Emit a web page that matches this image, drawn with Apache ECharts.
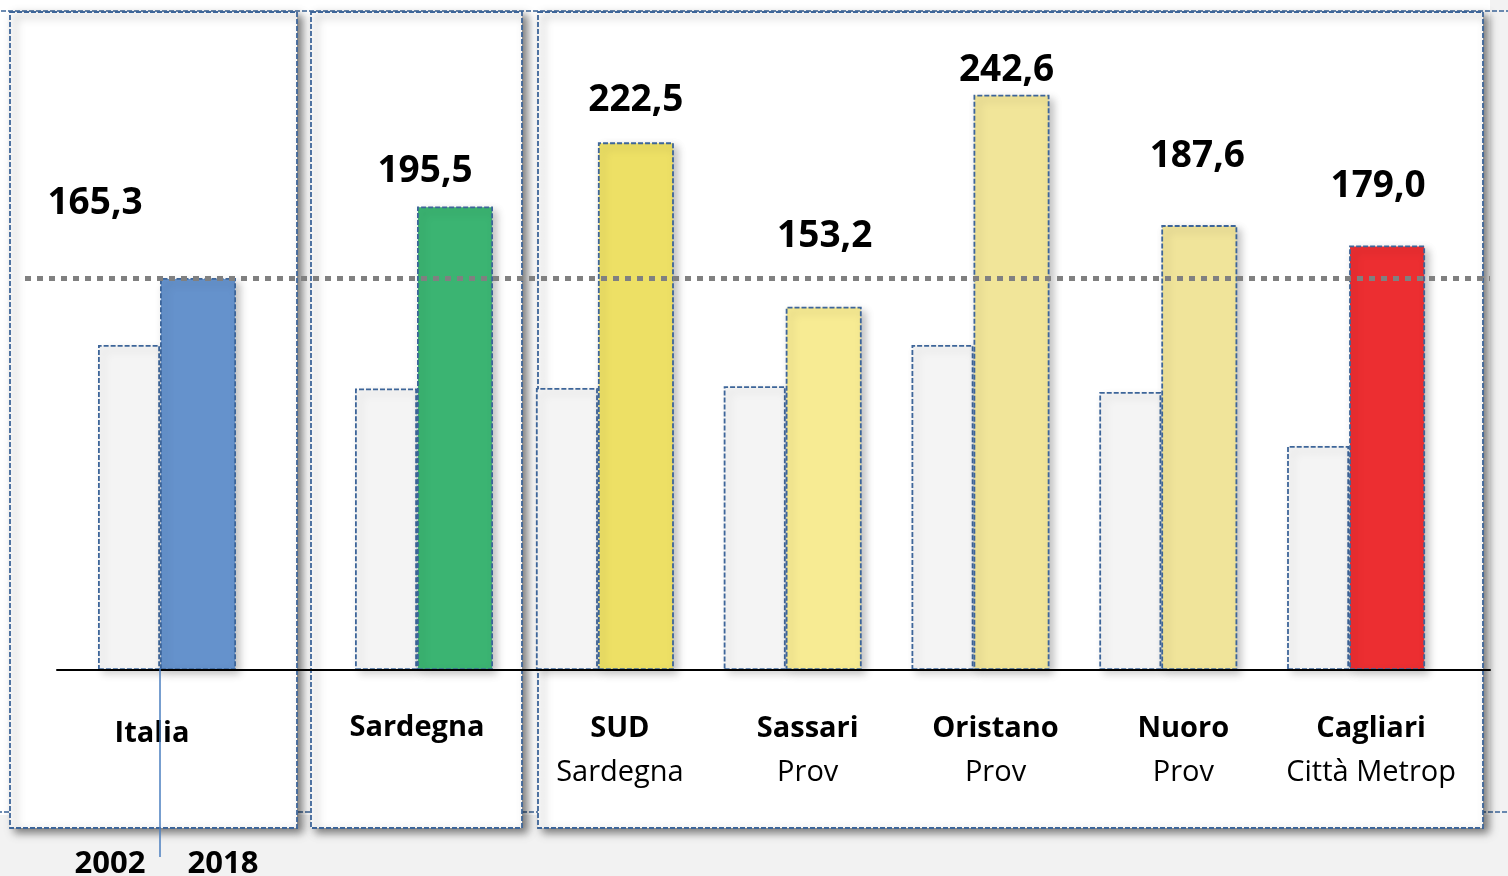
<!DOCTYPE html>
<html lang="it">
<head>
    <meta charset="UTF-8">
    <title>Indice di vecchiaia 2002 - 2018</title>
    <script src="https://cdn.jsdelivr.net/npm/echarts@6/dist/echarts.min.js"></script>
</head>
<style>
    html, body {
        margin: 0;
        height: 100%;
    }
</style>
<body>
<div id="main" style="width: 1508px;height:876px"></div>
<script type="text/javascript">
    // dati
    var categories = ['Italia', 'Sardegna', 'SUD', 'Sassari', 'Oristano', 'Nuoro', 'Cagliari'];
    var subtitles = ['', '', 'Sardegna', 'Prov', 'Prov', 'Prov', 'Città Metrop'];
    var years = ['2002', '2018'];
    var values2002 = [137.1, 118.7, 118.9, 119.7, 137.1, 117.2, 94.5];
    var values2018 = [165.3, 195.5, 222.5, 153.2, 242.6, 187.6, 179.0];

    // stile
    var barColors = ['#6592cc', '#3bb472', '#ede065', '#f7eb93', '#f1e599', '#f0e49a', '#ec2e31'];
    var labelShift = [[-103, -56], [-30, -16], [0, -23], [1, -52], [-5, -6], [-2, -50], [-9, -41]];
    var panels = [[10, 12, 287, 816], [311, 12, 211, 816], [538, 12, 945, 816]];
    var groups = [[0, 1], [1, 2], [2, 7]];
    var grids = [
        {left: 67, width: 200, pad: [0, 30, 0, 0], margin: 42},
        {left: 334, width: 180, pad: [0, 14, 0, 0], margin: 36},
        {left: 511, width: 939, pad: [0, 0, 0, 30], margin: 37}
    ];
    var border = '#3d6599';
    var yMax = 280;

    var myChart = echarts.init(document.getElementById('main'));

    function fmtNum(v) {
        return v.toFixed(1).replace('.', ',');
    }

    var option = {
        backgroundColor: '#f2f2f2',
        animation: false,
        grid: [],
        xAxis: [],
        yAxis: [],
        series: [],
        graphic: []
    };

    // sfondo e riquadri
    option.graphic.push({
        type: 'rect', z: 0, silent: true,
        shape: {x: 0, y: 0, width: 1490, height: 815},
        style: {fill: '#ffffff'}
    });
    option.graphic.push({
        type: 'rect', z: 0, silent: true,
        shape: {x: -20, y: 11, width: 1560, height: 801},
        style: {fill: 'none', stroke: border, lineWidth: 1.5, lineDash: [5, 2]}
    });
    panels.forEach(function (p) {
        option.graphic.push({
            type: 'rect', z: 1, silent: true,
            shape: {x: p[0], y: p[1], width: p[2], height: p[3]},
            style: {
                fill: '#ffffff', stroke: border, lineWidth: 1.8, lineDash: [5, 2],
                shadowBlur: 8, shadowOffsetX: 5, shadowOffsetY: 4, shadowColor: 'rgba(0,0,0,0.5)'
            }
        });
    });

    groups.forEach(function (g, gi) {
        var cats = categories.slice(g[0], g[1]);
        var subs = subtitles.slice(g[0], g[1]);
        option.grid.push({left: grids[gi].left, width: grids[gi].width, top: 6, bottom: 206});
        option.xAxis.push({
            type: 'category', gridIndex: gi, data: cats, z: 3,
            axisLine: {show: false}, axisTick: {show: false},
            axisLabel: {
                interval: 0, margin: grids[gi].margin, padding: grids[gi].pad,
                formatter: function (v, i) {
                    var s = subs[i];
                    return s ? '{b|' + v + '}\n{r|' + s + '}' : '{b|' + v + '}';
                },
                rich: {
                    b: {fontFamily: 'Open Sans', fontWeight: 'bold', fontSize: 29, color: '#000', lineHeight: 44},
                    r: {fontFamily: 'Open Sans', fontSize: 29, color: '#000', lineHeight: 44}
                }
            }
        });
        option.yAxis.push({type: 'value', gridIndex: gi, min: 0, max: yMax, show: false});
        option.series.push({
            name: years[0], type: 'bar', xAxisIndex: gi, yAxisIndex: gi,
            barWidth: 62, barGap: '0%', z: 2,
            itemStyle: {
                color: '#f4f4f4', borderColor: border, borderWidth: 1.8, borderType: [5, 2],
                shadowBlur: 8, shadowOffsetX: 4, shadowOffsetY: 4, shadowColor: 'rgba(0,0,0,0.18)'
            },
            data: values2002.slice(g[0], g[1])
        });
        option.series.push({
            name: years[1], type: 'bar', xAxisIndex: gi, yAxisIndex: gi,
            barWidth: 76, barGap: '0%', z: 2,
            itemStyle: {
                borderColor: border, borderWidth: 1.8, borderType: [5, 2],
                shadowBlur: 8, shadowOffsetX: 4, shadowOffsetY: 4, shadowColor: 'rgba(0,0,0,0.25)'
            },
            label: {
                show: true, position: 'top', distance: 0,
                fontFamily: 'Open Sans', fontWeight: 'bold', fontSize: 37, color: '#000',
                formatter: function (p) { return fmtNum(p.value); }
            },
            data: values2018.slice(g[0], g[1]).map(function (v, i) {
                var k = g[0] + i;
                return {value: v, itemStyle: {color: barColors[k]}, label: {offset: labelShift[k]}};
            })
        });
    });

    // linea di riferimento (Italia 2018) e asse
    option.grid.push({left: 25, right: 18, top: 6, bottom: 206});
    option.xAxis.push({type: 'category', gridIndex: 3, data: [''], show: false});
    option.yAxis.push({type: 'value', gridIndex: 3, min: 0, max: yMax, show: false});
    option.series.push({
        type: 'line', xAxisIndex: 3, yAxisIndex: 3, z: 5, data: [null], showSymbol: false,
        markLine: {
            silent: true, symbol: 'none', label: {show: false},
            lineStyle: {color: '#808080', width: 5, type: [6, 6]},
            data: [{yAxis: values2018[0]}]
        }
    });
    option.grid.push({left: 57, right: 18, top: 6, bottom: 206});
    option.xAxis.push({
        type: 'category', gridIndex: 4, data: [''], z: 4,
        axisLine: {show: true, lineStyle: {color: '#000', width: 2}},
        axisTick: {show: false}, axisLabel: {show: false}
    });
    option.yAxis.push({type: 'value', gridIndex: 4, min: 0, max: yMax, show: false});

    // legenda anni sotto Italia
    option.graphic.push({
        type: 'line', z: 6, silent: true,
        shape: {x1: 160, y1: 668, x2: 160, y2: 857},
        style: {stroke: '#4a7ebf', lineWidth: 1.5}
    });
    option.graphic.push({
        type: 'text', z: 6, silent: true, x: 110, y: 864,
        style: {text: years[0], fill: '#000', font: 'bold 31px "Open Sans"', align: 'center', verticalAlign: 'middle'}
    });
    option.graphic.push({
        type: 'text', z: 6, silent: true, x: 223, y: 864,
        style: {text: years[1], fill: '#000', font: 'bold 31px "Open Sans"', align: 'center', verticalAlign: 'middle'}
    });

    myChart.setOption(option);
</script>
</body>
</html>
